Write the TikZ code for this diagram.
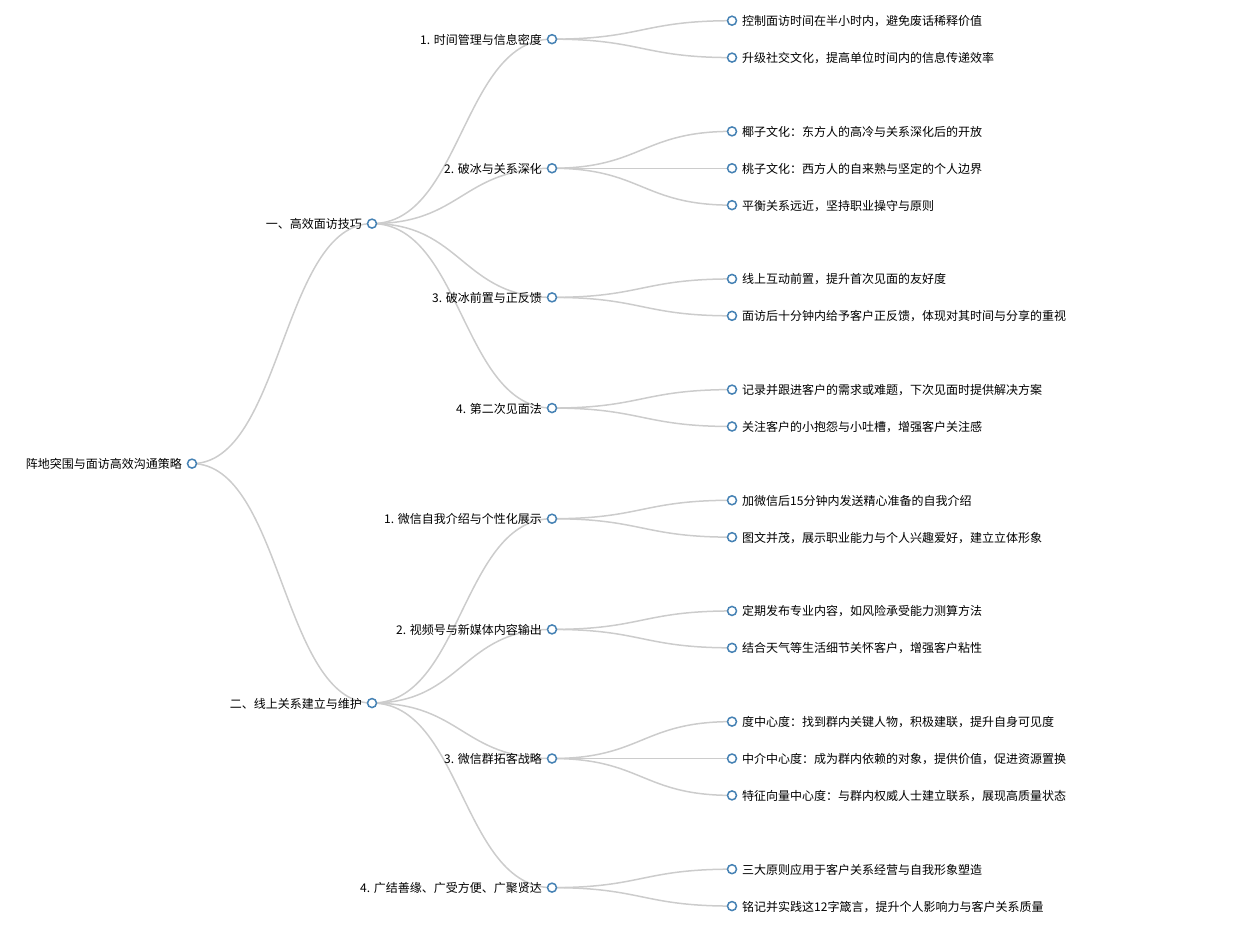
\documentclass[tikz,border=0pt]{standalone}
\usepackage{fontspec}
\setmainfont{Noto Sans CJK SC}
\definecolor{linkc}{HTML}{CCCCCC}
\definecolor{dotc}{HTML}{4682B4}
\newcommand\lnk[2]{\draw[link] (#1) .. controls ([xshift=90pt]#1) and ([xshift=-90pt]#2) .. (#2);}
\begin{document}
\begin{tikzpicture}[x=1pt,y=-1pt,
  link/.style={draw=linkc,line width=1.5pt},
  dot/.style={circle,draw=dotc,fill=white,line width=1.5pt,minimum size=9pt,inner sep=0pt},
  lleaf/.style={anchor=base west,inner sep=0pt,font=\fontsize{12}{14}\selectfont,xshift=10pt,yshift=-5pt},
  lpar/.style={anchor=base east,inner sep=0pt,font=\fontsize{12}{14}\selectfont,xshift=-10pt,yshift=-5pt}]
\useasboundingbox (0,0) rectangle (1253,924);
% positions
\coordinate (r) at (192,463.6);
\coordinate (a) at (372,223.6);
\coordinate (b) at (372,703.05);
\coordinate (a1) at (552,39.15);
\coordinate (a2) at (552,168.26);
\coordinate (a3) at (552,297.38);
\coordinate (a4) at (552,408.05);
\coordinate (b1) at (552,518.72);
\coordinate (b2) at (552,629.39);
\coordinate (b3) at (552,758.5);
\coordinate (b4) at (552,887.62);
\coordinate (a11) at (732,20.7);
\coordinate (a12) at (732,57.59);
\coordinate (a21) at (732,131.37);
\coordinate (a22) at (732,168.26);
\coordinate (a23) at (732,205.15);
\coordinate (a31) at (732,278.93);
\coordinate (a32) at (732,315.82);
\coordinate (a41) at (732,389.6);
\coordinate (a42) at (732,426.49);
\coordinate (b11) at (732,500.27);
\coordinate (b12) at (732,537.16);
\coordinate (b21) at (732,610.94);
\coordinate (b22) at (732,647.83);
\coordinate (b31) at (732,721.61);
\coordinate (b32) at (732,758.5);
\coordinate (b33) at (732,795.39);
\coordinate (b41) at (732,869.17);
\coordinate (b42) at (732,906.06);
% links
\lnk{r}{a}\lnk{r}{b}
\lnk{a}{a1}\lnk{a}{a2}\lnk{a}{a3}\lnk{a}{a4}
\lnk{b}{b1}\lnk{b}{b2}\lnk{b}{b3}\lnk{b}{b4}
\lnk{a1}{a11}\lnk{a1}{a12}
\lnk{a2}{a21}\lnk{a2}{a22}\lnk{a2}{a23}
\lnk{a3}{a31}\lnk{a3}{a32}
\lnk{a4}{a41}\lnk{a4}{a42}
\lnk{b1}{b11}\lnk{b1}{b12}
\lnk{b2}{b21}\lnk{b2}{b22}
\lnk{b3}{b31}\lnk{b3}{b32}\lnk{b3}{b33}
\lnk{b4}{b41}\lnk{b4}{b42}
% dots
\foreach \n in {r,a,b,a1,a2,a3,a4,b1,b2,b3,b4,a11,a12,a21,a22,a23,a31,a32,a41,a42,b11,b12,b21,b22,b31,b32,b33,b41,b42}
  {\node[dot] (\n d) at (\n) {};}
% parent labels
\node[lpar] (rt) at (r) {阵地突围与面访高效沟通策略};
\node[lpar] (at) at (a) {一、高效面访技巧};
\node[lpar] (bt) at (b) {二、线上关系建立与维护};
\node[lpar] (a1t) at (a1) {1. 时间管理与信息密度};
\node[lpar] (a2t) at (a2) {2. 破冰与关系深化};
\node[lpar] (a3t) at (a3) {3. 破冰前置与正反馈};
\node[lpar] (a4t) at (a4) {4. 第二次见面法};
\node[lpar] (b1t) at (b1) {1. 微信自我介绍与个性化展示};
\node[lpar] (b2t) at (b2) {2. 视频号与新媒体内容输出};
\node[lpar] (b3t) at (b3) {3. 微信群拓客战略};
\node[lpar] (b4t) at (b4) {4. 广结善缘、广受方便、广聚贤达};
% leaf labels
\node[lleaf] (a11t) at (a11) {控制面访时间在半小时内，避免废话稀释价值};
\node[lleaf] (a12t) at (a12) {升级社交文化，提高单位时间内的信息传递效率};
\node[lleaf] (a21t) at (a21) {椰子文化：东方人的高冷与关系深化后的开放};
\node[lleaf] (a22t) at (a22) {桃子文化：西方人的自来熟与坚定的个人边界};
\node[lleaf] (a23t) at (a23) {平衡关系远近，坚持职业操守与原则};
\node[lleaf] (a31t) at (a31) {线上互动前置，提升首次见面的友好度};
\node[lleaf] (a32t) at (a32) {面访后十分钟内给予客户正反馈，体现对其时间与分享的重视};
\node[lleaf] (a41t) at (a41) {记录并跟进客户的需求或难题，下次见面时提供解决方案};
\node[lleaf] (a42t) at (a42) {关注客户的小抱怨与小吐槽，增强客户关注感};
\node[lleaf] (b11t) at (b11) {加微信后15分钟内发送精心准备的自我介绍};
\node[lleaf] (b12t) at (b12) {图文并茂，展示职业能力与个人兴趣爱好，建立立体形象};
\node[lleaf] (b21t) at (b21) {定期发布专业内容，如风险承受能力测算方法};
\node[lleaf] (b22t) at (b22) {结合天气等生活细节关怀客户，增强客户粘性};
\node[lleaf] (b31t) at (b31) {度中心度：找到群内关键人物，积极建联，提升自身可见度};
\node[lleaf] (b32t) at (b32) {中介中心度：成为群内依赖的对象，提供价值，促进资源置换};
\node[lleaf] (b33t) at (b33) {特征向量中心度：与群内权威人士建立联系，展现高质量状态};
\node[lleaf] (b41t) at (b41) {三大原则应用于客户关系经营与自我形象塑造};
\node[lleaf] (b42t) at (b42) {铭记并实践这12字箴言，提升个人影响力与客户关系质量};
\end{tikzpicture}
\end{document}
